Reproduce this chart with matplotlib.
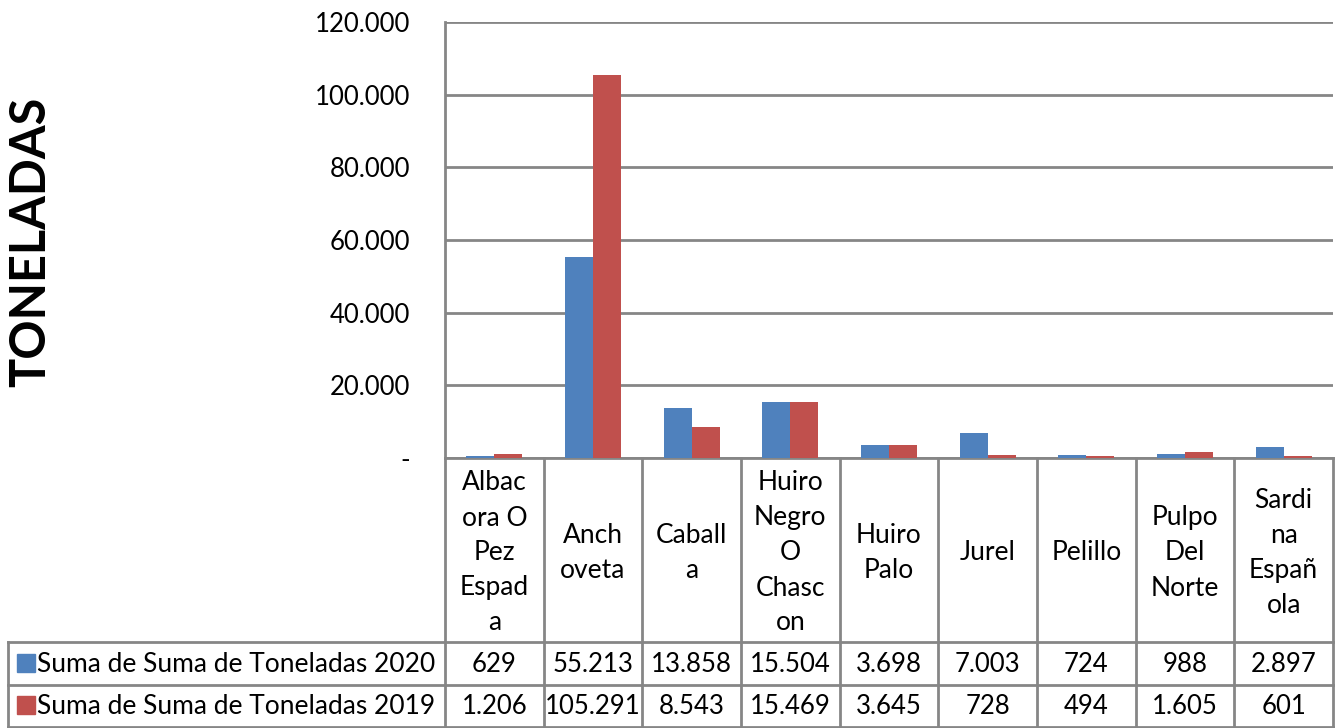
import matplotlib
matplotlib.use("Agg")
import matplotlib.pyplot as plt
from matplotlib.transforms import blended_transform_factory
import numpy as np

categories = ["Albacora O Pez Espada", "Anchoveta", "Caballa", "Huiro Negro O Chascon",
              "Huiro Palo", "Jurel", "Pelillo", "Pulpo Del Norte", "Sardina Española"]
category_labels = ["Albac\nora O\nPez\nEspad\na", "Anch\noveta", "Caball\na",
                   "Huiro\nNegro\nO\nChasc\non", "Huiro\nPalo", "Jurel", "Pelillo",
                   "Pulpo\nDel\nNorte", "Sardi\nna\nEspañ\nola"]
series_names = ["Suma de Suma de Toneladas 2020", "Suma de Suma de Toneladas 2019"]
values_2020 = [629, 55213, 13858, 15504, 3698, 7003, 724, 988, 2897]
values_2019 = [1206, 105291, 8543, 15469, 3645, 728, 494, 1605, 601]
y_ticks = [0, 20000, 40000, 60000, 80000, 100000, 120000]
y_label = "TONELADAS"

colors = ["#4F81BD", "#C0504D"]
grid_color = "#868686"
FONT = "Lato"

def fmt(v):
    if v == 0:
        return "-"
    return f"{v:,.0f}".replace(",", ".")

W, H = 1335, 728
fig = plt.figure(figsize=(W / 100, H / 100), dpi=100)

# pixel layout
px_left, px_right, px_top, px_zero = 445, 1333, 22, 458
ax = fig.add_axes([px_left / W, 1 - px_zero / H, (px_right - px_left) / W, (px_zero - px_top) / H])

n = len(categories)
x = np.arange(n)
bw = 0.285
ax.bar(x - bw / 2, values_2020, width=bw, color=colors[0], zorder=3)
ax.bar(x + bw / 2, values_2019, width=bw, color=colors[1], zorder=3)
ax.set_xlim(-0.5, n - 0.5)
ax.set_ylim(0, 120000)
ax.set_yticks(y_ticks)
ax.set_yticklabels([fmt(t) for t in y_ticks], fontsize=18.5, family=FONT)
ax.tick_params(axis="y", length=0, pad=25)
ax.set_xticks([])
ax.grid(axis="y", color=grid_color, linewidth=2, zorder=0)
for s in ["top", "right"]:
    ax.spines[s].set_visible(False)
ax.spines["left"].set_color(grid_color)
ax.spines["left"].set_linewidth(2)
ax.spines["bottom"].set_color(grid_color)
ax.spines["bottom"].set_linewidth(2)

fig.text(31 / W, 1 - 242 / H, y_label, rotation=90, fontsize=35, fontweight="bold",
         family=FONT, ha="center", va="center")

# overlay for the data table in pixel coordinates
ov = fig.add_axes([0, 0, 1, 1], zorder=5)
ov.set_xlim(0, W)
ov.set_ylim(H, 0)
ov.axis("off")
tr = blended_transform_factory(ax.transData, ov.transData)

y_hdr_top, y_r1, y_r2, y_bot = px_zero, 642, 685, 727
lw = 2
# vertical boundaries
for b in np.arange(n + 1) - 0.5:
    ov.plot([b, b], [y_hdr_top, y_bot], transform=tr, color=grid_color, lw=lw, clip_on=False)
# horizontal lines
table_left = 8
for yy in [y_r1, y_r2, y_bot]:
    ov.plot([table_left, px_right], [yy, yy], color=grid_color, lw=lw, clip_on=False)
ov.plot([table_left, table_left], [y_r1, y_bot], color=grid_color, lw=lw, clip_on=False)

# header labels
for i, lab in enumerate(category_labels):
    ov.text(x[i], (y_hdr_top + y_r1) / 2 + 3, lab, transform=tr, ha="center", va="center",
            fontsize=19, family=FONT, linespacing=1.5)

# data rows
for r, (vals, yy0, yy1) in enumerate([(values_2020, y_r1, y_r2), (values_2019, y_r2, y_bot)]):
    yc = (yy0 + yy1) / 2
    ov.add_patch(plt.Rectangle((17, yc - 10), 18, 18, color=colors[r]))
    ov.text(37, yc + 1, series_names[r], ha="left", va="center", fontsize=19, family=FONT)
    for i, v in enumerate(vals):
        ov.text(x[i], yc + 1, fmt(v), transform=tr, ha="center", va="center",
                fontsize=18.5, family=FONT)

fig.savefig("out.png", dpi=100)
